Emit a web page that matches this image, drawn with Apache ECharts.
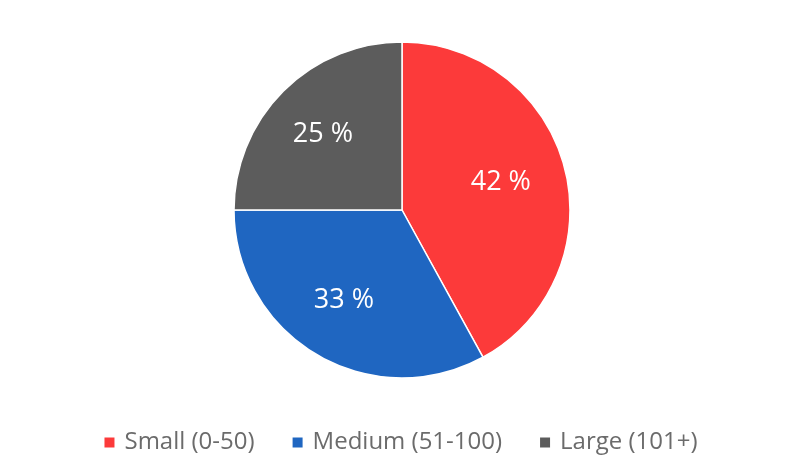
<!DOCTYPE html>
<html>
<head>
<meta charset="utf-8">
<script src="https://cdn.jsdelivr.net/npm/echarts@6/dist/echarts.min.js"></script>
<style>html,body{margin:0;padding:0;background:#fff;}#c{width:800px;height:469px;}</style>
</head>
<body>
<div id="c"></div>
<script>
const categories = ['Small (0-50)', 'Medium (51-100)', 'Large (101+)'];
const values = [42, 33, 25];
const colors = ['#fc3a3a', '#1f66c1', '#5c5c5c'];

const CX = 402, CY = 210, R = 168, LABEL_SCALE = 1.22, LABEL_DX = -4, LABEL_DY = -1;
const chart = echarts.init(document.getElementById('c'));
chart.setOption({
  animation: false,
  color: colors,
  legend: {
    top: 425,
    left: 'center',
    itemWidth: 12,
    itemHeight: 12,
    itemGap: 36,
    icon: 'rect',
    textStyle: { fontFamily: 'Open Sans', fontSize: 24, lineHeight: 25, color: '#6b6b6b', padding: [0, 0, 0, 4] },
    data: categories
  },
  series: [{
    type: 'pie',
    center: [CX, CY],
    radius: [0, R],
    startAngle: 90,
    clockwise: true,
    itemStyle: { borderColor: '#fff', borderWidth: 1.5 },
    label: {
      show: true,
      position: 'inside',
      formatter: '{c} %',
      color: '#fff',
      fontFamily: 'Open Sans',
      fontSize: 27
    },
    labelLine: { show: false },
    labelLayout: function (p) {
      const lx = p.labelRect.x + p.labelRect.width / 2;
      const ly = p.labelRect.y + p.labelRect.height / 2;
      return { x: CX + (lx - CX) * LABEL_SCALE + LABEL_DX, y: CY + (ly - CY) * LABEL_SCALE + LABEL_DY };
    },
    emphasis: { disabled: true },
    data: categories.map((n, i) => ({ name: n, value: values[i] }))
  }]
});
</script>
</body>
</html>
